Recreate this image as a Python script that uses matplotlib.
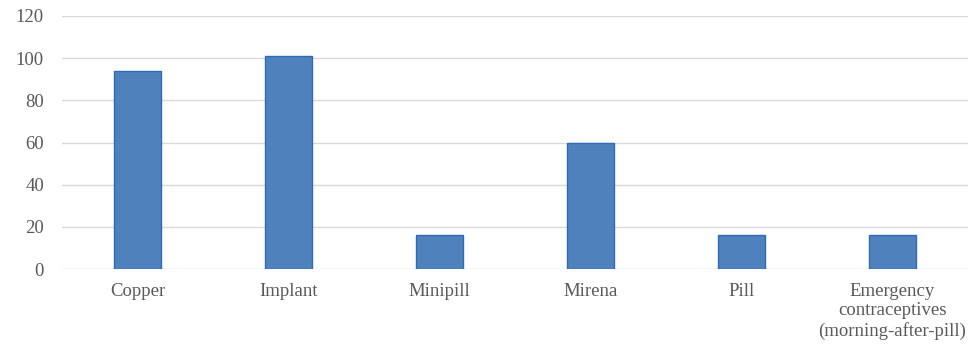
import matplotlib.pyplot as plt

categories = ["Copper", "Implant", "Minipill", "Mirena", "Pill",
              "Emergency\ncontraceptives\n(morning-after-pill)"]
values = [94, 101, 16, 60, 16, 16]
yticks = [0, 20, 40, 60, 80, 100, 120]

fig = plt.figure(figsize=(9.72, 3.45), dpi=100)
ax = fig.add_axes([62 / 972, 1 - 269 / 345, (968 - 62) / 972, (269 - 16) / 345])

x = range(len(categories))
ax.bar(x, values, width=0.31, color="#4F81BD", edgecolor="#2E6BB5",
       linewidth=1.0, zorder=3)

ax.set_xlim(-0.5, len(categories) - 0.5)
ax.set_ylim(0, 120)
ax.set_yticks(yticks)
ax.set_xticks(list(x))
ax.set_xticklabels(categories, linespacing=1.2)
ax.grid(axis="y", color="#D9D9D9", linewidth=1.0, zorder=0)
for s in ax.spines.values():
    s.set_visible(False)
ax.tick_params(axis="both", length=0, labelsize=13.5, labelcolor="#595959")
ax.tick_params(axis="x", pad=10)
ax.tick_params(axis="y", pad=13)
for lbl in ax.get_xticklabels() + ax.get_yticklabels():
    lbl.set_fontfamily("Liberation Serif")

fig.savefig("out.png", dpi=100)
